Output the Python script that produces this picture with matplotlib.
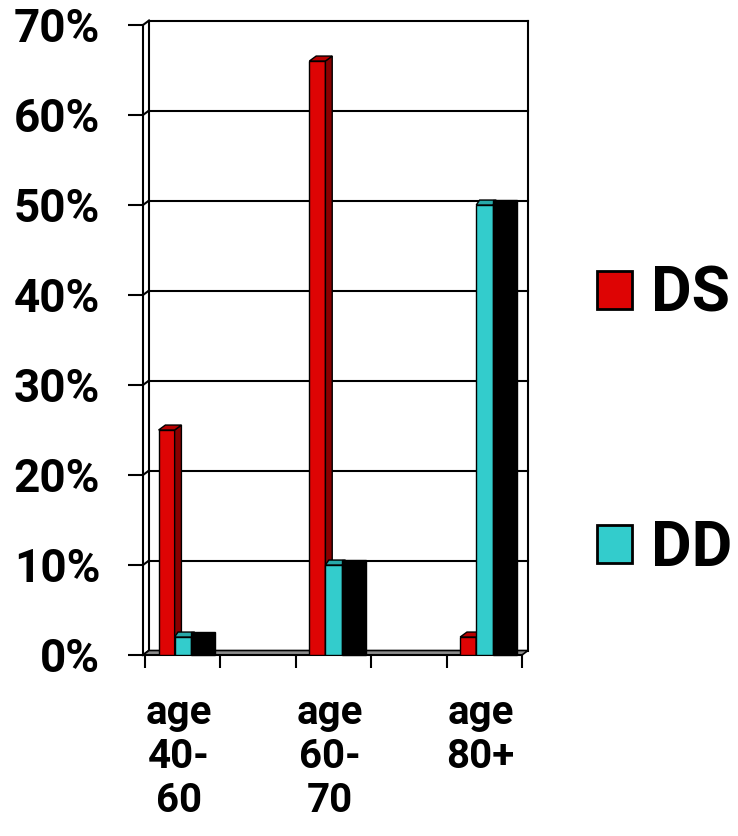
import numpy as np
import matplotlib
matplotlib.use("Agg")
import matplotlib.pyplot as plt
from matplotlib.patches import Patch, Polygon

plt.rcParams['font.family'] = ['Roboto', 'DejaVu Sans']
plt.rcParams['font.weight'] = 'bold'

# data
categories = ['age\n40-\n60', 'age\n60-\n70', 'age\n80+']
ds_values = [25, 66, 2]
dd_values = [2, 10, 50]
series_names = ['DS', 'DD']
y_ticks = [0, 10, 20, 30, 40, 50, 60, 70]

RED = '#DE0404'
RED_SIDE = '#8A0000'
RED_TOP = '#B80000'
CYAN = '#33CCCC'
CYAN_TOP = '#27A8A8'

fig = plt.figure(figsize=(7.38, 8.36), dpi=100)
ax = fig.add_axes([143 / 738, (836 - 655) / 836, 379 / 738, 630 / 836])
x_left = -0.5 - 2 / 75.4
ax.set_xlim(x_left, 4.5)
ax.set_ylim(0, 70)
for s in ax.spines.values():
    s.set_visible(False)

# 3d offsets (wall and bars)
dx, dy = 0.08, 0.5
bdx, bdy = 0.09, 0.55

# back wall, grid and floor
lk = dict(color='black', lw=1.5, clip_on=False, zorder=1)
for v in y_ticks[1:]:
    ax.plot([x_left + dx, 4.5 + dx], [v + dy, v + dy], **lk)
for v in y_ticks:
    ax.plot([x_left, x_left + dx], [v, v + dy], **lk)
ax.plot([x_left, x_left], [0, 70], **lk)
ax.plot([x_left + dx, x_left + dx], [dy, 70 + dy], **lk)
ax.plot([4.5 + dx, 4.5 + dx], [dy, 70 + dy], **lk)
floor = Polygon([(x_left, 0), (4.5, 0), (4.5 + dx, dy), (x_left + dx, dy)],
                closed=True, facecolor='#8C8C8C', edgecolor='black', lw=1.2,
                clip_on=False, zorder=2)
ax.add_patch(floor)
ax.plot([x_left, 4.5], [0, 0], color='black', lw=1.5, clip_on=False, zorder=2)

slots = [2 * i for i in range(len(categories))]
red_l, red_r = -0.32, -0.107
cy_l, cy_r = -0.107, 0.113
blk_r = 0.43


def add_poly(pts, fc, z):
    ax.add_patch(Polygon(pts, closed=True, facecolor=fc, edgecolor='black',
                         lw=1.0, zorder=z, clip_on=False))


for c, vs, vd in zip(slots, ds_values, dd_values):
    # DS column
    ax.bar(c + red_l, vs, width=red_r - red_l, align='edge', color=RED,
           edgecolor='black', lw=1.0, zorder=3)
    x1 = c + red_r
    add_poly([(x1, 0), (x1, vs), (x1 + bdx, vs + bdy), (x1 + bdx, bdy)], RED_SIDE, 3)
    add_poly([(c + red_l, vs), (x1, vs), (x1 + bdx, vs + bdy),
              (c + red_l + bdx, vs + bdy)], RED_TOP, 3)
    # DD column
    ax.bar(c + cy_l, vd, width=cy_r - cy_l, align='edge', color=CYAN,
           edgecolor='black', lw=1.0, zorder=4)
    add_poly([(c + cy_l, vd), (c + cy_r, vd), (c + cy_r + bdx * 0.5, vd + bdy),
              (c + cy_l + bdx * 0.5, vd + bdy)], CYAN_TOP, 4)
    add_poly([(c + cy_r, 0), (c + cy_r, vd + bdy), (c + blk_r, vd + bdy),
              (c + blk_r, 0)], 'black', 5)

# ticks
ax.set_yticks(y_ticks)
ax.set_yticklabels([f'{v}%' for v in y_ticks])
ax.tick_params(axis='y', length=10.8, width=1.5, pad=20, labelsize=33)
ax.set_xticks(np.arange(-0.5, 5.0, 1.0))
ax.set_xticklabels([])
ax.tick_params(axis='x', which='major', length=9.4, width=1.5)
ax.set_xticks([s - 0.05 for s in slots], minor=True)
ax.set_xticklabels(categories, minor=True)
ax.tick_params(axis='x', which='minor', length=0, pad=28, labelsize=29)
for t in ax.get_xticklabels(minor=True):
    t.set_linespacing(1.2)

# legend
handles = [Patch(facecolor=RED, edgecolor='black', lw=2, label=series_names[0]),
           Patch(facecolor=CYAN, edgecolor='black', lw=2, label=series_names[1])]
fig.legend(handles=handles, loc='center left', bbox_to_anchor=(597 / 738, 0.4955),
           frameon=False, fontsize=45, handlelength=0.56, handleheight=0.56,
           handletextpad=0.3, labelspacing=3.1, borderpad=0, borderaxespad=0)

fig.savefig('out.png', dpi=100, facecolor='white')
